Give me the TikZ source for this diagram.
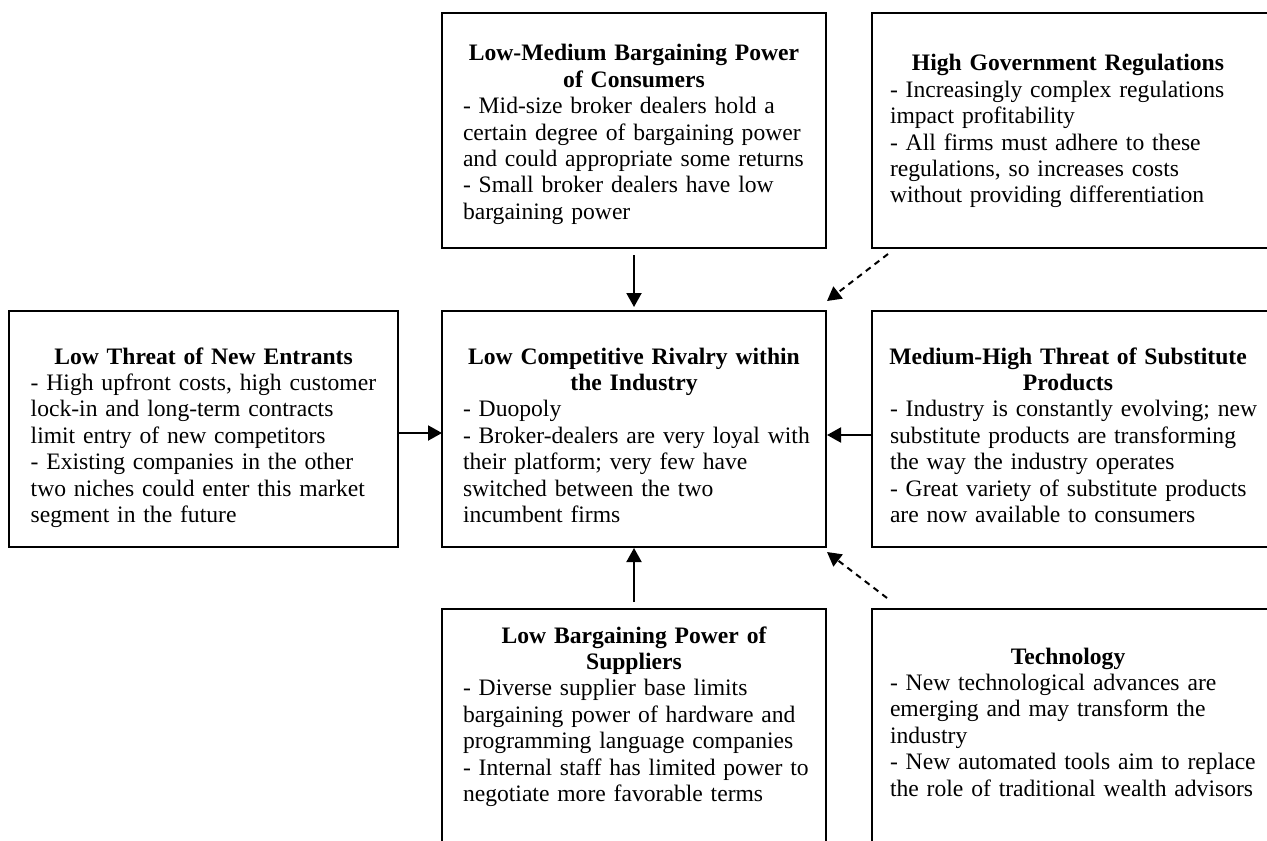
\documentclass[tikz,border=0pt]{standalone}
\usepackage{fontspec}
\setmainfont{Liberation Serif}
\usetikzlibrary{arrows.meta,calc}
% centred bold heading line of a given width
\newcommand\boxtitle[2]{\makebox[#1][c]{\bfseries #2}}
\begin{document}
\begin{tikzpicture}[x=0.5pt,y=-0.5pt,
  box/.style={draw,line width=1pt,rectangle,inner sep=0pt,outer sep=0pt},
  txt/.style={anchor=base west,inner sep=0pt,outer sep=0pt,text width=195pt,align=left,
    font=\fontsize{11.8}{13.2}\selectfont},
  arr/.style={line width=1pt,-{Triangle[length=7pt,width=7.5pt]}},
  darr/.style={arr,dash pattern=on 3pt off 2.5pt}]
\useasboundingbox (0,0) rectangle (1267,840);
\clip (0,0) rectangle (1267,840);

% frames
\node[box,minimum width=192pt,minimum height=117.5pt] (tc) at (634,130.5) {};
\node[box,minimum width=204pt,minimum height=117.5pt] (tr) at (1076,130.5) {};
\node[box,minimum width=194.5pt,minimum height=118pt] (lb) at (203.5,429) {};
\node[box,minimum width=192pt,minimum height=118pt] (cc) at (634,429) {};
\node[box,minimum width=204pt,minimum height=118pt] (rm) at (1076,429) {};
\node[box,minimum width=192pt,minimum height=145.5pt] (bc) at (634,754.5) {};
\node[box,minimum width=204pt,minimum height=145.5pt] (br) at (1076,754.5) {};

% texts
\node[txt] (tcT) at (463,61) {\boxtitle{171pt}{Low-Medium Bargaining Power}\\
  \boxtitle{171pt}{of Consumers}\\
  - Mid-size broker dealers hold a\\
  certain degree of bargaining power\\
  and could appropriate some returns\\
  - Small broker dealers have low\\
  bargaining power};

\node[txt] (trT) at (890,71) {\boxtitle{178pt}{High Government Regulations}\\
  - Increasingly complex regulations\\
  impact profitability\\
  - All firms must adhere to these\\
  regulations, so increases costs\\
  without providing differentiation};

\node[txt] (lbT) at (30.7,364) {\boxtitle{172.8pt}{Low Threat of New Entrants}\\
  - High upfront costs, high customer\\
  lock-in and long-term contracts\\
  limit entry of new competitors\\
  - Existing companies in the other\\
  two niches could enter this market\\
  segment in the future};

\node[txt] (ccT) at (463,364) {\boxtitle{171pt}{Low Competitive Rivalry within}\\
  \boxtitle{171pt}{the Industry}\\
  - Duopoly\\
  - Broker-dealers are very loyal with\\
  their platform; very few have\\
  switched between the two\\
  incumbent firms};

\node[txt] (rmT) at (890,364) {\boxtitle{178pt}{Medium-High Threat of Substitute}\\
  \boxtitle{178pt}{Products}\\
  - Industry is constantly evolving; new\\
  substitute products are transforming\\
  the way the industry operates\\
  - Great variety of substitute products\\
  are now available to consumers};

\node[txt] (bcT) at (463,643) {\boxtitle{171pt}{Low Bargaining Power of}\\
  \boxtitle{171pt}{Suppliers}\\
  - Diverse supplier base limits\\
  bargaining power of hardware and\\
  programming language companies\\
  - Internal staff has limited power to\\
  negotiate more favorable terms};

\node[txt] (brT) at (890,664) {\boxtitle{178pt}{Technology}\\
  - New technological advances are\\
  emerging and may transform the\\
  industry\\
  - New automated tools aim to replace\\
  the role of traditional wealth advisors};

% forces acting on the rivalry box
\draw[arr] ($(tc.south)+(0,7)$) -- ($(cc.north)+(0,-4)$);
\draw[arr] ($(lb.east)+(0,4)$) -- ($(cc.west)+(0,4)$);
\draw[arr] ($(rm.west)+(0,6)$) -- ($(cc.east)+(1,6)$);
\draw[arr] ($(bc.north)+(0,-7)$) -- ($(cc.south)+(0,1)$);
\draw[darr] ($(tr.south west)+(16,6)$) -- ($(cc.north east)+(1,-10)$);
\draw[darr] ($(br.north west)+(15,-11)$) -- ($(cc.south east)+(1,5)$);
\end{tikzpicture}
\end{document}
